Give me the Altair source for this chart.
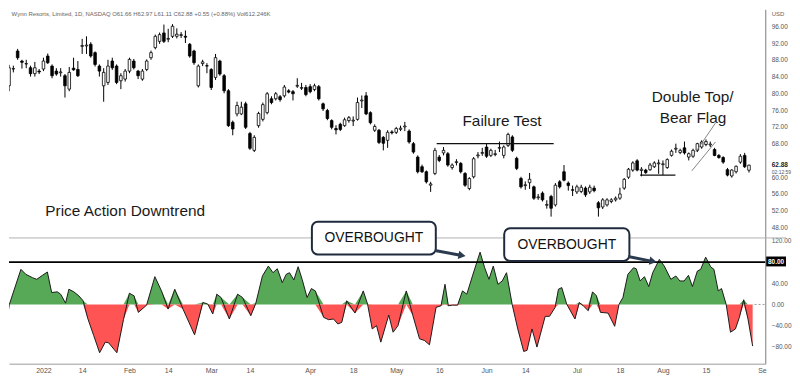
import altair as alt
import pandas as pd

# ---------------- candles (bar index, OHLC) ----------------
opens = [80.4, 81.8, 85.8, 90.1, 87.7, 87.0, 86.1, 84.7, 85.3, 85.8,
         88.9, 86.5, 85.3, 84.9, 84.2, 81.0, 86.0, 85.7, 91.2, 91.3,
         91.7, 89.7, 86.5, 81.8, 82.6, 87.7, 86.5, 83.0, 83.4, 85.3,
         87.7, 85.3, 83.4, 85.7, 88.5, 90.9, 92.4, 94.4, 92.9, 93.6,
         93.6, 93.8, 93.6, 91.7, 90.1, 81.8, 87.1, 86.6, 85.7, 83.8,
         87.7, 84.2, 80.6, 73.1, 75.1, 75.1, 77.5, 70.4, 66.4, 72.3,
         73.8, 75.4, 78.7, 78.7, 79.2, 79.4, 80.6, 80.4, 81.7, 81.2,
         81.4, 81.6, 80.9, 81.6, 77.5, 75.9, 73.5, 71.6, 72.6, 72.3,
         73.5, 73.4, 73.8, 78.2, 79.4, 75.4, 71.2, 71.2, 69.5, 68.8,
         70.8, 70.7, 71.4, 72.0, 71.0, 68.0, 64.8, 62.5, 61.3, 58.1,
         60.9, 64.8, 65.8, 65.6, 62.3, 63.5, 63.3, 60.9, 57.3, 60.1,
         65.1, 65.7, 67.2, 65.2, 65.4, 66.9, 65.2, 67.6, 69.6, 64.5,
         59.7, 58.0, 58.7, 57.7, 55.1, 56.2, 53.3, 55.4, 53.4, 58.9,
         61.3, 58.6, 57.0, 56.5, 56.6, 57.4, 56.5, 57.4, 53.9, 52.9,
         53.4, 54.2, 54.6, 55.0, 57.4, 60.0, 61.7, 63.9, 61.6, 61.7,
         61.8, 62.5, 63.2, 63.0, 62.3, 65.2, 66.7, 65.9, 67.0, 64.8,
         65.0, 66.4, 67.2, 67.8, 67.7, 66.6, 65.2, 64.7, 61.8, 60.3,
         61.3, 63.6, 65.2, 61.66]
highs = [82.0, 86.8, 86.6, 90.6, 88.0, 88.0, 86.6, 87.5, 85.8, 88.5,
         89.5, 86.9, 86.0, 86.0, 84.6, 86.3, 88.5, 87.7, 93.0, 93.6,
         92.2, 90.0, 86.9, 86.0, 88.0, 88.5, 86.9, 84.8, 85.8, 88.5,
         88.2, 85.6, 85.8, 88.1, 90.2, 94.0, 94.5, 96.4, 95.4, 96.5,
         95.5, 94.6, 95.0, 92.0, 90.4, 86.9, 88.0, 87.2, 86.0, 89.4,
         88.0, 84.6, 81.0, 73.5, 78.0, 78.0, 78.0, 70.8, 70.0, 75.6,
         77.8, 80.3, 79.3, 80.3, 79.6, 82.0, 81.0, 80.8, 83.6, 82.5,
         82.0, 82.2, 82.3, 82.0, 77.8, 76.3, 73.8, 72.4, 73.0, 74.2,
         74.6, 74.5, 79.0, 79.5, 80.3, 75.7, 72.6, 71.5, 69.8, 71.2,
         71.2, 72.0, 72.3, 73.2, 71.4, 68.4, 65.2, 63.0, 61.6, 58.9,
         67.0, 65.3, 67.2, 66.0, 63.3, 64.3, 63.6, 61.2, 60.0, 64.8,
         66.0, 67.0, 68.0, 66.8, 66.5, 68.5, 67.6, 70.6, 70.0, 64.9,
         60.1, 59.0, 61.0, 58.0, 56.0, 56.6, 54.5, 55.8, 58.6, 59.3,
         62.9, 59.0, 58.0, 58.2, 58.2, 57.8, 58.2, 58.0, 54.3, 55.0,
         55.0, 55.0, 55.4, 57.5, 59.8, 62.2, 63.8, 64.3, 62.4, 62.0,
         63.4, 63.8, 64.2, 64.0, 64.5, 66.6, 68.0, 66.8, 68.5, 65.9,
         66.8, 68.2, 68.8, 69.0, 68.5, 67.0, 65.5, 65.0, 62.2, 61.9,
         62.8, 65.5, 65.8, 62.97]
lows = [78.9, 80.5, 85.0, 88.0, 85.9, 86.0, 84.0, 84.0, 84.6, 85.3,
        87.0, 83.6, 84.2, 84.0, 79.0, 80.5, 85.4, 83.9, 89.4, 89.4,
        88.5, 86.4, 84.0, 78.0, 82.0, 85.6, 82.2, 81.0, 82.8, 84.8,
        85.7, 83.4, 83.0, 85.3, 88.0, 90.5, 91.8, 92.0, 92.2, 93.2,
        93.1, 93.2, 92.0, 88.5, 86.8, 81.4, 86.5, 84.8, 80.8, 83.2,
        84.2, 80.0, 72.0, 70.0, 74.5, 74.8, 71.5, 66.5, 66.0, 71.8,
        73.3, 75.0, 77.4, 78.3, 78.0, 79.0, 80.0, 78.3, 81.3, 80.8,
        79.3, 80.0, 80.5, 78.3, 75.8, 73.6, 71.4, 70.2, 71.0, 72.0,
        73.0, 72.2, 73.5, 76.5, 74.8, 72.6, 70.8, 67.9, 66.4, 67.0,
        70.2, 70.3, 71.0, 71.0, 68.0, 65.6, 60.9, 61.0, 58.5, 56.5,
        60.5, 63.6, 65.2, 62.5, 61.8, 62.8, 60.9, 57.7, 56.9, 59.7,
        64.5, 65.1, 64.6, 64.8, 65.0, 66.0, 64.5, 67.2, 66.0, 61.7,
        57.3, 57.0, 57.2, 54.6, 54.6, 54.2, 52.5, 50.6, 53.0, 57.3,
        59.0, 56.8, 55.5, 56.0, 56.2, 55.3, 56.0, 56.4, 50.6, 52.4,
        53.0, 53.8, 54.2, 54.6, 57.0, 59.6, 61.3, 61.4, 60.2, 60.8,
        61.5, 62.2, 60.8, 60.5, 62.0, 64.9, 65.8, 65.5, 65.4, 64.0,
        64.6, 66.0, 66.8, 67.4, 67.2, 65.0, 64.4, 63.2, 60.2, 59.9,
        60.9, 63.2, 62.2, 61.11]
closes = [81.2, 86.1, 85.9, 88.5, 87.4, 87.1, 84.7, 86.1, 85.1, 87.7,
          87.3, 84.2, 84.6, 85.1, 81.8, 85.0, 85.6, 84.2, 91.4, 91.5,
          88.9, 86.9, 85.3, 85.0, 86.5, 86.1, 82.6, 84.2, 85.3, 88.1,
          86.1, 84.2, 85.3, 87.7, 89.7, 93.6, 94.0, 92.4, 93.1, 96.0,
          94.1, 94.0, 93.4, 88.9, 87.3, 86.5, 87.5, 86.5, 81.4, 88.5,
          84.6, 80.6, 72.3, 71.5, 77.1, 76.7, 71.9, 66.9, 69.5, 75.2,
          77.3, 79.9, 77.8, 79.9, 78.5, 81.5, 80.3, 79.9, 81.9, 81.4,
          79.7, 80.4, 81.8, 78.7, 76.3, 74.0, 71.9, 71.3, 71.4, 73.7,
          74.2, 73.6, 77.8, 78.4, 75.1, 73.0, 72.1, 68.3, 68.1, 70.7,
          70.6, 71.6, 71.7, 72.2, 68.4, 66.0, 61.3, 61.3, 58.9, 58.4,
          66.4, 64.0, 66.4, 62.9, 62.9, 63.7, 61.3, 58.1, 59.7, 64.4,
          65.3, 65.9, 65.0, 66.4, 65.6, 67.1, 67.2, 70.2, 66.4, 62.1,
          57.7, 58.2, 59.5, 55.0, 55.3, 54.6, 53.5, 52.6, 58.1, 57.7,
          59.3, 58.0, 56.9, 57.7, 57.6, 55.8, 57.6, 56.8, 52.7, 54.6,
          54.6, 54.6, 55.0, 56.0, 59.5, 61.9, 63.4, 61.7, 61.9, 61.1,
          62.9, 63.4, 63.4, 63.2, 64.2, 66.2, 66.9, 66.4, 65.8, 65.6,
          66.4, 68.0, 68.4, 68.5, 67.9, 65.2, 64.7, 63.6, 60.5, 61.7,
          62.6, 65.0, 62.5, 62.88]
bar_idx = list(range(len(opens)))

# ---------------- oscillator (bar position, value) ----------------
osc_x = [-0.85, 0.07, 1.07, 3.76, 4.91, 6.45, 7.45, 8.76, 9.91, 10.91,
         12.22, 12.99, 14.14, 14.91, 16.06, 17.22, 18.22, 19.29, 20.68, 22.06,
         23.37, 24.14, 26.06, 27.6, 28.98, 30.06, 31.06, 32.98, 34.9, 36.44,
         37.98, 39.52, 41.44, 44.13, 46.05, 47.21, 48.36, 49.28, 50.28, 52.21,
         54.13, 55.28, 57.2, 58.37, 59.9, 61.28, 62.36, 63.36, 64.51, 65.43,
         66.2, 67.2, 68.2, 69.13, 70.28, 71.28, 72.2, 74.12, 75.28, 76.43,
         77.43, 78.35, 79.5, 81.42, 83.34, 84.34, 85.42, 86.42, 87.42, 89.27,
         90.27, 91.42, 93.34, 94.88, 96.42, 97.57, 98.73, 100.26, 101.42, 102.34,
         103.11, 104.11, 105.26, 106.41, 107.41, 108.72, 110.49, 111.56, 112.56, 113.56,
         114.64, 115.64, 116.64, 117.95, 119.25, 120.63, 121.4, 122.56, 123.71, 125.63,
         126.63, 127.94, 128.71, 129.48, 130.63, 132.55, 133.55, 134.47, 135.63, 136.63,
         137.55, 138.47, 140.24, 141.78, 142.78, 143.7, 144.85, 146.16, 146.78, 147.7,
         148.7, 149.7, 150.62, 152.16, 153.31, 154.85, 156.0, 156.93, 157.93, 158.93,
         159.85, 161.0, 161.77, 162.93, 164.08, 164.85, 165.85, 166.62, 167.7, 168.7,
         169.85, 170.77, 171.77, 172.77, 173.85]
osc_v = [-27.5, -52.5, 0.0, 66.3, 56.9, 50.6, 47.5, 55.0, 61.3, 22.5,
         23.8, 19.4, 2.5, 28.8, 23.8, 16.3, 6.9, -26.3, -58.8, -91.3,
         -71.3, -72.5, -91.3, -28.8, 21.3, 16.3, -15.0, -1.3, 52.5, 25.6,
         -8.8, 28.8, -8.8, -57.5, 3.8, 0.6, -18.1, 19.4, 13.1, -27.5,
         19.4, 13.1, -21.3, 2.5, 53.8, 72.5, 60.0, 67.5, 41.3, 56.9,
         60.0, 46.3, 71.3, 47.5, 13.1, 30.0, 25.6, -24.4, -28.8, -27.5,
         -36.9, -33.8, 6.9, -16.3, 25.6, 0.6, -46.3, -40.0, -71.3, -20.0,
         -52.5, -40.0, 25.6, -21.3, -65.0, -68.1, -76.3, -5.6, -2.5, 38.1,
         -2.5, -1.3, -1.3, 25.6, 19.4, 53.8, 98.8, 69.4, 47.5, 72.5,
         38.1, 44.4, 60.0, 0.0, -46.3, -88.8, -86.9, -46.3, -80.6, -22.5,
         -22.5, -5.6, 28.8, 31.9, 0.6, -27.5, 3.8, -2.5, -11.9, 23.8,
         16.3, -15.0, -16.3, -41.3, 0.0, 13.1, 56.9, 69.4, 67.5, 44.4,
         52.5, 33.8, 60.0, 85.0, 72.5, 47.5, 53.8, 44.4, 44.4, 55.0,
         33.8, 63.1, 66.3, 89.4, 71.3, 66.3, 25.6, 30.0, 0.0, -52.5,
         -46.3, -24.4, 8.8, -27.5, -78.8]

# ---------------- axes ----------------
tick_idx = [9, 18, 29, 38, 48, 57, 71, 81, 91, 101, 112, 121, 133, 143, 153, 163, 176]
tick_lbl = ["2022", "14", "Feb", "14", "Mar", "14", "Apr", "18", "May", "16",
            "Jun", "14", "Jul", "18", "Aug", "15", "Se"]
price_ticks = [48, 52, 56, 60, 68, 72, 76, 80, 84, 88, 92, 96]
osc_ticks = [-80, -40, 0, 40, 120]

# ---------------- annotations ----------------
note_text = ["Price Action Downtrend", "Failure Test", "Double Top/", "Bear Flag"]
note_i = [28.0, 115.6, 159.9, 160.0]
note_p = [52.0, 73.5, 79.0, 74.0]

hline_i0 = [100.4, 147.7]
hline_i1 = [127.6, 155.9]
hline_p = [68.0, 60.5]

flag_i0 = [160.6, 159.7]
flag_p0 = [66.0, 61.5]
flag_i1 = [165.2, 165.2]
flag_p1 = [72.9, 68.4]

box_i0 = [71.4, 116.1]
box_i1 = [100.2, 145.2]
box_v0 = [94.4, 82.2]
box_v1 = [156.3, 144.1]
box_text = ["OVERBOUGHT", "OVERBOUGHT"]

arrow_i0 = [100.0, 144.9]
arrow_v0 = [101.9, 90.6]
arrow_i1 = [105.6, 150.0]
arrow_v1 = [93.6, 82.4]
arrow_hi = [106.3, 150.7]
arrow_hv = [92.6, 81.5]

title_text = ["Wynn Resorts, Limited, 1D, NASDAQ  O61.66  H62.97  L61.11  C62.88  +0.55 (+0.88%)  Vol612.246K"]

XDOM = [0.99, 176.77]
PDOM = [15.53, 100.02]
ODOM = [-112.0, 557.8]

FONT = "Liberation Sans"

label_map = "{" + ",".join(f"'{k}':'{v}'" for k, v in zip(tick_idx, tick_lbl)) + "}"
x_axis = alt.Axis(values=tick_idx, labelExpr=f"{label_map}[datum.value]", title=None,
                  grid=False, ticks=False, domainColor="#9a9a9a", labelColor="#555",
                  labelFontSize=7, labelFont=FONT, labelPadding=3, labelFlush=False,
                  labelOverlap=False, orient="bottom")
price_axis = alt.Axis(orient="right", values=price_ticks, format=".2f", title=None, grid=False,
                      ticks=False, domainColor="#9a9a9a", labelColor="#555", labelFontSize=6.5,
                      labelFont=FONT, labelPadding=6, labelOverlap=False)
osc_axis = alt.Axis(orient="right", values=osc_ticks, format=".2f", title=None, grid=False,
                    ticks=False, domainColor="#9a9a9a", labelColor="#555", labelFontSize=6.5,
                    labelFont=FONT, labelPadding=6, labelOverlap=False)

xs = alt.Scale(domain=XDOM, nice=False, zero=False, padding=0)
ps = alt.Scale(domain=PDOM, nice=False, zero=False, padding=0)
os_ = alt.Scale(domain=ODOM, nice=False, zero=False, padding=0)


def X(f):
    return alt.X(f"{f}:Q", scale=xs, axis=x_axis)


def PY(f):
    return alt.Y(f"{f}:Q", scale=ps, axis=price_axis)


def OY(f):
    return alt.Y(f"{f}:Q", scale=os_, axis=osc_axis)


candles = pd.DataFrame({"i": bar_idx, "open": opens, "high": highs, "low": lows, "close": closes})
osc = pd.DataFrame({"x": osc_x, "v": osc_v})
notes = pd.DataFrame({"i": note_i, "p": note_p, "t": note_text})
hlines = pd.DataFrame({"i0": hline_i0, "i1": hline_i1, "p": hline_p})
flags = pd.DataFrame({"i0": flag_i0, "i1": flag_i1, "p0": flag_p0, "p1": flag_p1})
boxes = pd.DataFrame({"i0": box_i0, "i1": box_i1, "v0": box_v0, "v1": box_v1, "t": box_text})
arrows = pd.DataFrame({"i0": arrow_i0, "i1": arrow_i1, "v0": arrow_v0, "v1": arrow_v1,
                       "hi": arrow_hi, "hv": arrow_hv})

# ---------------- price pane ----------------
cbase = alt.Chart(candles).transform_filter(alt.datum.i >= 1)
wicks = cbase.mark_rule(color="black", strokeWidth=1, clip=True).encode(
    x=X("i"), y=PY("low"), y2="high:Q")
bodies = cbase.mark_bar(size=2.6, stroke="black", strokeWidth=0.8, clip=True).encode(
    x=X("i"), y=PY("open"), y2="close:Q",
    fill=alt.condition(alt.datum.close >= alt.datum.open, alt.value("white"), alt.value("black")))
note_marks = alt.Chart(notes).mark_text(font=FONT, fontSize=15.5, color="#1a1a1a", baseline="middle").encode(
    x=X("i"), y=PY("p"), text="t:N")
hline_marks = alt.Chart(hlines).mark_rule(color="#111", strokeWidth=1.3).encode(
    x=X("i0"), x2="i1:Q", y=PY("p"))
flag_marks = alt.Chart(flags).mark_rule(color="#777", strokeWidth=0.9).encode(
    x=X("i0"), x2="i1:Q", y=PY("p0"), y2="p1:Q")
title_mark = alt.Chart(pd.DataFrame({"i": [1.6], "p": [99.0], "t": title_text})).mark_text(
    font=FONT, fontSize=6, color="#666", align="left", baseline="middle").encode(
    x=X("i"), y=PY("p"), text="t:N")
usd_mark = alt.Chart(pd.DataFrame({"i": [178.3], "p": [99.0], "t": ["USD"]})).mark_text(
    font=FONT, fontSize=6, color="#666", align="left", baseline="middle").encode(
    x=X("i"), y=PY("p"), text="t:N")
last_mark = alt.Chart(pd.DataFrame({"i": [178.3], "p": [62.88], "t": ["62.88"]})).mark_text(
    font=FONT, fontSize=6.5, color="#222", fontWeight="bold", align="left", baseline="middle").encode(
    x=X("i"), y=PY("p"), text="t:N")
timer_mark = alt.Chart(pd.DataFrame({"i": [178.3], "p": [61.2], "t": ["02:12:59"]})).mark_text(
    font=FONT, fontSize=5, color="#555", align="left", baseline="middle").encode(
    x=X("i"), y=PY("p"), text="t:N")

price_chart = alt.layer(wicks, bodies, hline_marks, flag_marks, note_marks, title_mark,
                        usd_mark, last_mark, timer_mark)

# ---------------- oscillator pane ----------------
base = alt.Chart(osc).transform_filter(alt.datum.x >= 0).transform_calculate(
    pos="max(datum.v, 0)", neg="min(datum.v, 0)")
pos_area = base.mark_area(color="#57A957", opacity=1, clip=True).encode(
    x=X("x"), y=OY("pos"), y2=alt.datum(0))
neg_area = base.mark_area(color="#FF5454", opacity=1, clip=True).encode(
    x=X("x"), y=OY("neg"), y2=alt.datum(0))
osc_line = base.mark_line(color="#1b1b1b", strokeWidth=1, clip=True).encode(
    x=X("x"), y=OY("v"))
level80 = alt.Chart(pd.DataFrame({"lvl": [80]})).mark_rule(color="black", strokeWidth=2).encode(
    y=OY("lvl"))
sep = alt.Chart(pd.DataFrame({"i0": [XDOM[0]], "i1": [181.6], "lvl": [125.7]})).mark_rule(
    color="#b0b0b0", strokeWidth=1).encode(x=X("i0"), x2="i1:Q", y=OY("lvl"))
zero_dash = alt.Chart(pd.DataFrame({"i0": [174.3], "i1": [176.7], "lvl": [0]})).mark_rule(
    color="#999", strokeWidth=1, strokeDash=[2, 2]).encode(x=X("i0"), x2="i1:Q", y=OY("lvl"))
box_rects = alt.Chart(boxes).mark_rect(fill="white", stroke="#1f2b3d", strokeWidth=2, cornerRadius=6).encode(
    x=X("i0"), x2="i1:Q", y=OY("v0"), y2="v1:Q")
box_texts = alt.Chart(boxes).transform_calculate(ci="(datum.i0 + datum.i1) / 2", cv="(datum.v0 + datum.v1) / 2").mark_text(
    font=FONT, fontSize=14, color="#111", baseline="middle").encode(
    x=X("ci"), y=OY("cv"), text="t:N")
arrow_shafts = alt.Chart(arrows).mark_rule(color="#2b3a4e", strokeWidth=3).encode(
    x=X("i0"), x2="i1:Q", y=OY("v0"), y2="v1:Q")
arrow_heads = alt.Chart(arrows).mark_point(shape="triangle-right", filled=True, size=70, angle=10,
                                           color="#2b3a4e", opacity=1).encode(
    x=X("hi"), y=OY("hv"))
tag80_box = alt.Chart(pd.DataFrame({"i0": [177.0], "i1": [181.6], "v0": [71.9], "v1": [90.6]})).mark_rect(
    fill="black").encode(x=X("i0"), x2="i1:Q", y=OY("v0"), y2="v1:Q")
tag80_text = alt.Chart(pd.DataFrame({"i": [179.3], "v": [81.0], "t": ["80.00"]})).mark_text(
    font=FONT, fontSize=6.5, color="white", fontWeight="bold", baseline="middle").encode(
    x=X("i"), y=OY("v"), text="t:N")

osc_chart = alt.layer(pos_area, neg_area, osc_line, level80, sep, zero_dash, box_rects, box_texts,
                      arrow_shafts, arrow_heads, tag80_box, tag80_text)

chart = alt.layer(price_chart, osc_chart).resolve_scale(y="independent").properties(
    width=762, height=357, padding=0, background="white"
).configure_view(stroke=None)

chart.save("out.html", embed_options={"renderer": "svg", "actions": False})
